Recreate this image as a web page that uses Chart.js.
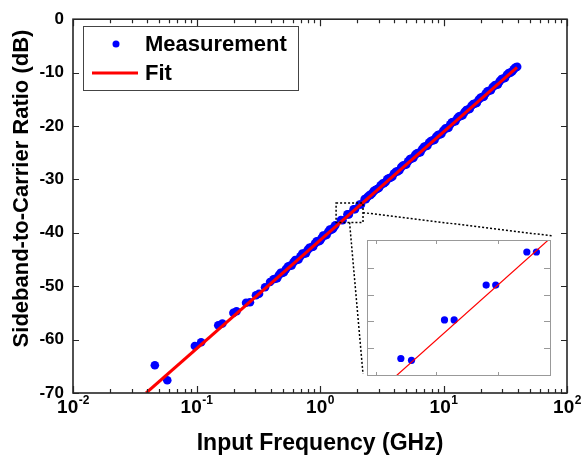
<!DOCTYPE html>
<html>
<head>
<meta charset="utf-8">
<script src="https://cdn.jsdelivr.net/npm/chart.js@4.4.0/dist/chart.umd.min.js"></script>
<style>
  body { margin: 0; background: #fff; }
  #wrap { position: relative; width: 581px; height: 457px; background: #fff; }
  #mainChart { position: absolute; left: 0; top: 0; }
  #insetChart { position: absolute; left: 364px; top: 237px; }
</style>
</head>
<body>
<div id="wrap">
  <canvas id="mainChart" width="581" height="457"></canvas>
  <canvas id="insetChart" width="190" height="142"></canvas>
</div>
<script>
// measured points (GHz, dB)
const measFreq = [
  0.046, 0.058, 0.097, 0.109, 0.150, 0.162, 0.199, 0.211, 0.252, 0.271, 0.303, 0.321, 0.359, 0.394,
  0.42, 0.435, 0.45, 0.465, 0.48, 0.495, 0.51, 0.53, 0.55, 0.57,
  0.59, 0.61, 0.63, 0.65, 0.67, 0.695, 0.72, 0.745, 0.77, 0.795,
  0.82, 0.85, 0.88, 0.91, 0.94, 0.97, 1.00, 1.03, 1.06, 1.095,
  1.13, 1.165, 1.20, 1.235, 1.27, 1.30, 1.33,
  1.478, 1.522, 1.667, 1.712, 1.870, 1.920, 2.092, 2.148,
  2.3, 2.35, 2.42, 2.5, 2.57, 2.65, 2.72, 2.8, 2.9, 3.0,
  3.1, 3.2, 3.3, 3.4, 3.5, 3.6, 3.72, 3.85, 3.97, 4.1,
  4.25, 4.4, 4.55, 4.7, 4.85, 5.0, 5.17, 5.35, 5.52, 5.7,
  5.9, 6.1, 6.3, 6.5, 6.72, 6.95, 7.17, 7.4, 7.65, 7.9,
  8.17, 8.45, 8.72, 9.0, 9.3, 9.6, 9.95, 10.3, 10.65, 11.0,
  11.35, 11.7, 12.1, 12.5, 12.95, 13.4, 13.85, 14.3, 14.8, 15.3,
  15.8, 16.3, 16.85, 17.4, 18.0, 18.6, 19.25, 19.9, 20.55, 21.2,
  21.95, 22.7, 23.45, 24.2, 25.05, 25.9, 26.75, 27.6, 28.55, 29.5,
  30.5, 31.5, 32.6, 33.7, 34.85, 36.0, 37.0, 38.0, 38.8, 39.5
];
const measDb = [
  -64.8, -67.6, -61.2, -60.5, -57.3, -57.0, -55.0, -54.7, -53.1, -53.0, -51.7, -51.4, -50.2, -49.2,
  -48.7, -48.6, -48.5, -47.9, -47.5, -47.5, -47.4, -46.8, -46.3, -46.2,
  -46.1, -45.5, -45.1, -45.1, -45.0, -44.4, -43.9, -43.9, -43.8, -43.2,
  -42.8, -42.7, -42.6, -42.0, -41.6, -41.6, -41.5, -41.0, -40.5, -40.5,
  -40.4, -39.8, -39.4, -39.4, -39.3, -38.9, -38.6,
  -37.6, -37.65, -36.55, -36.55, -35.6, -35.6, -34.7, -34.7,
  -33.7, -33.7, -33.3, -33.0, -32.9, -32.6, -32.2, -32.0, -31.8, -31.6,
  -31.1, -30.8, -30.7, -30.5, -30.0, -29.8, -29.7, -29.5, -28.9, -28.6,
  -28.5, -28.3, -27.7, -27.4, -27.3, -27.2, -26.6, -26.2, -26.1, -26.0,
  -25.4, -25.1, -25.0, -24.9, -24.3, -23.9, -23.8, -23.7, -23.1, -22.8,
  -22.7, -22.6, -22.0, -21.7, -21.6, -21.5, -20.9, -20.5, -20.4, -20.3,
  -19.7, -19.3, -19.2, -19.1, -18.5, -18.2, -18.1, -18.0, -17.4, -17.0,
  -16.9, -16.8, -16.2, -15.9, -15.8, -15.7, -15.1, -14.7, -14.6, -14.5,
  -13.9, -13.5, -13.4, -13.3, -12.7, -12.4, -12.3, -12.2, -11.6, -11.2,
  -11.1, -11.0, -10.4, -10.1, -10.0, -9.8, -9.4, -9.1, -9.0, -8.9
];

// linear fit (straight on the log axis)
const fitFreq = [0.0391, 39.4];
const fitDb = [-70, -9.0];

// axes
const xMin = 0.01, xMax = 100;
const xTickExp = [-2, -1, 0, 1, 2];
const yMin = -70, yMax = 0, yStep = 10;

// zoomed region shown in the inset
const insetX = [1.35, 2.23];
const insetY = [-38.05, -34.4];
const insetXTicks = [1.38, 1.63, 1.93];
const insetYTicks = [-35.13, -35.86, -36.59, -37.32];

const xLabel = 'Input Frequency (GHz)';
const yLabel = 'Sideband-to-Carrier Ratio (dB)';

const FONT = '"Liberation Sans", Arial, sans-serif';
const frameColor = '#262626';

const measPoints = measFreq.map((f, i) => ({ x: f, y: measDb[i] }));
const fitPoints = fitFreq.map((f, i) => ({ x: f, y: fitDb[i] }));

function tickMarks(ctx, a, xs, ys, xVals, yVals, len, color, width) {
  ctx.strokeStyle = color;
  ctx.lineWidth = width;
  ctx.beginPath();
  xVals.forEach(v => {
    const px = Math.round(xs.getPixelForValue(v)) + 0.5;
    const l = typeof len === 'function' ? len(v) : len;
    ctx.moveTo(px, a.bottom); ctx.lineTo(px, a.bottom - l);
    ctx.moveTo(px, a.top); ctx.lineTo(px, a.top + l);
  });
  yVals.forEach(v => {
    const py = Math.round(ys.getPixelForValue(v)) + 0.5;
    ctx.moveTo(a.left, py); ctx.lineTo(a.left + 6, py);
    ctx.moveTo(a.right, py); ctx.lineTo(a.right - 6, py);
  });
  ctx.stroke();
}

const mainDecor = {
  id: 'mainDecor',
  afterDatasetsDraw(chart) {
    const ctx = chart.ctx, xs = chart.scales.x, ys = chart.scales.y;
    // dotted zoom box + connectors to the inset
    const bx0 = xs.getPixelForValue(insetX[0]), bx1 = xs.getPixelForValue(insetX[1]);
    const by0 = ys.getPixelForValue(insetY[1]), by1 = ys.getPixelForValue(insetY[0]);
    const inset = document.getElementById('insetChart');
    const il = inset.offsetLeft + 1, it = inset.offsetTop + 1;
    const ir = il + inset.width - 2, ib = it + inset.height - 2;
    ctx.save();
    ctx.strokeStyle = '#000';
    ctx.lineWidth = 1.5;
    ctx.setLineDash([2, 2]);
    ctx.strokeRect(bx0, by0, bx1 - bx0, by1 - by0);
    ctx.beginPath();
    ctx.moveTo(bx1, (by0 + by1) / 2); ctx.lineTo(ir, it - 2);
    ctx.moveTo((bx0 + bx1) / 2, by1); ctx.lineTo(il - 2, ib - 4);
    ctx.stroke();
    ctx.restore();
  },
  afterDraw(chart) {
    const ctx = chart.ctx, a = chart.chartArea, xs = chart.scales.x, ys = chart.scales.y;
    ctx.save();
    // ticks (inward, all four sides)
    const xVals = [];
    for (let e = -2; e < 2; e++) for (let m = 1; m <= 9; m++) xVals.push(m * Math.pow(10, e));
    xVals.push(100);
    const yVals = [];
    for (let v = yMin; v <= yMax; v += yStep) yVals.push(v);
    tickMarks(ctx, a, xs, ys, xVals, yVals, v => Math.abs(Math.log10(v) % 1) < 1e-9 ? 7 : 4, frameColor, 1.2);
    // frame
    ctx.strokeStyle = frameColor;
    ctx.lineWidth = 1.6;
    ctx.strokeRect(a.left, a.top, a.right - a.left, a.bottom - a.top);

    // x tick labels 10^n
    ctx.fillStyle = '#000';
    ctx.textAlign = 'left';
    ctx.textBaseline = 'alphabetic';
    xTickExp.forEach(e => {
      const px = xs.getPixelForValue(Math.pow(10, e));
      ctx.font = 'bold 19px ' + FONT;
      const wb = ctx.measureText('10').width;
      ctx.font = 'bold 12px ' + FONT;
      const sup = String(e);
      const ws = ctx.measureText(sup).width;
      const x0 = px - (wb + ws) / 2;
      ctx.font = 'bold 19px ' + FONT;
      ctx.fillText('10', x0, 413);
      ctx.font = 'bold 12px ' + FONT;
      ctx.fillText(sup, x0 + wb + 0.5, 404);
    });

    // axis titles
    ctx.font = 'bold 23px ' + FONT;
    ctx.textAlign = 'center';
    ctx.fillText(xLabel, (a.left + a.right) / 2, 450);
    ctx.font = 'bold 22px ' + FONT;
    ctx.save();
    ctx.translate(28, 188.5);
    ctx.rotate(-Math.PI / 2);
    ctx.fillText(yLabel, 0, 0);
    ctx.restore();

    // legend box
    const ds = chart.data.datasets;
    ctx.fillStyle = '#fff';
    ctx.fillRect(83, 26, 215, 64);
    ctx.strokeStyle = '#444';
    ctx.lineWidth = 1;
    ctx.strokeRect(83.5, 26.5, 215, 64);
    ctx.fillStyle = ds[0].backgroundColor;
    ctx.beginPath();
    ctx.arc(116, 44, 3.5, 0, Math.PI * 2);
    ctx.fill();
    ctx.strokeStyle = ds[1].borderColor;
    ctx.lineWidth = 3;
    ctx.beginPath();
    ctx.moveTo(92, 73); ctx.lineTo(138, 73);
    ctx.stroke();
    ctx.fillStyle = '#000';
    ctx.font = 'bold 22px ' + FONT;
    ctx.textAlign = 'left';
    ctx.textBaseline = 'middle';
    ctx.fillText(ds[0].label, 145, 45);
    ctx.fillText(ds[1].label, 145, 74);
    ctx.restore();
  }
};

new Chart(document.getElementById('mainChart'), {
  type: 'scatter',
  data: {
    datasets: [
      {
        label: 'Measurement',
        data: measPoints,
        backgroundColor: '#0000ff',
        pointRadius: 4.3,
        pointBorderWidth: 0,
        order: 2
      },
      {
        label: 'Fit',
        type: 'line',
        data: fitPoints,
        borderColor: '#ff0000',
        backgroundColor: '#ff0000',
        borderWidth: 3,
        pointRadius: 0,
        fill: false,
        order: 1
      }
    ]
  },
  options: {
    responsive: false,
    animation: false,
    devicePixelRatio: 1,
    layout: { padding: { top: 18, right: 14, left: 0, bottom: 0 } },
    plugins: { legend: { display: false }, tooltip: { enabled: false } },
    scales: {
      x: {
        type: 'logarithmic',
        min: xMin,
        max: xMax,
        grid: { display: false, drawTicks: false },
        border: { display: false },
        ticks: { display: false },
        afterFit: s => { s.height = 64; }
      },
      y: {
        type: 'linear',
        min: yMin,
        max: yMax,
        grid: { display: false, drawTicks: false },
        border: { display: false },
        ticks: {
          stepSize: yStep,
          padding: 9,
          color: '#000',
          font: { family: FONT, size: 17, weight: 'bold' }
        },
        afterFit: s => { s.width = 73; }
      }
    }
  },
  plugins: [mainDecor]
});

const insetDecor = {
  id: 'insetDecor',
  beforeDraw(chart) {
    const ctx = chart.ctx;
    ctx.save();
    ctx.fillStyle = '#fff';
    ctx.fillRect(0, 0, chart.width, chart.height);
    ctx.restore();
  },
  afterDraw(chart) {
    const ctx = chart.ctx, a = chart.chartArea, xs = chart.scales.x, ys = chart.scales.y;
    ctx.save();
    tickMarks(ctx, a, xs, ys, insetXTicks, insetYTicks, 3, '#999', 1);
    ctx.strokeStyle = '#999';
    ctx.lineWidth = 1;
    ctx.strokeRect(a.left - 0.5, a.top - 0.5, a.right - a.left + 1, a.bottom - a.top + 1);
    ctx.restore();
  }
};

new Chart(document.getElementById('insetChart'), {
  type: 'scatter',
  data: {
    datasets: [
      {
        label: 'Measurement',
        data: measPoints,
        backgroundColor: '#0000ff',
        pointRadius: 3.6,
        pointBorderWidth: 0,
        order: 2
      },
      {
        label: 'Fit',
        type: 'line',
        data: fitPoints,
        borderColor: '#ff0000',
        borderWidth: 1.2,
        pointRadius: 0,
        fill: false,
        order: 1
      }
    ]
  },
  options: {
    responsive: false,
    animation: false,
    devicePixelRatio: 1,
    layout: { padding: 1 },
    plugins: { legend: { display: false }, tooltip: { enabled: false } },
    scales: {
      x: { type: 'logarithmic', display: false, min: insetX[0], max: insetX[1] },
      y: { type: 'linear', display: false, min: insetY[0], max: insetY[1] }
    }
  },
  plugins: [insetDecor]
});
</script>
</body>
</html>
